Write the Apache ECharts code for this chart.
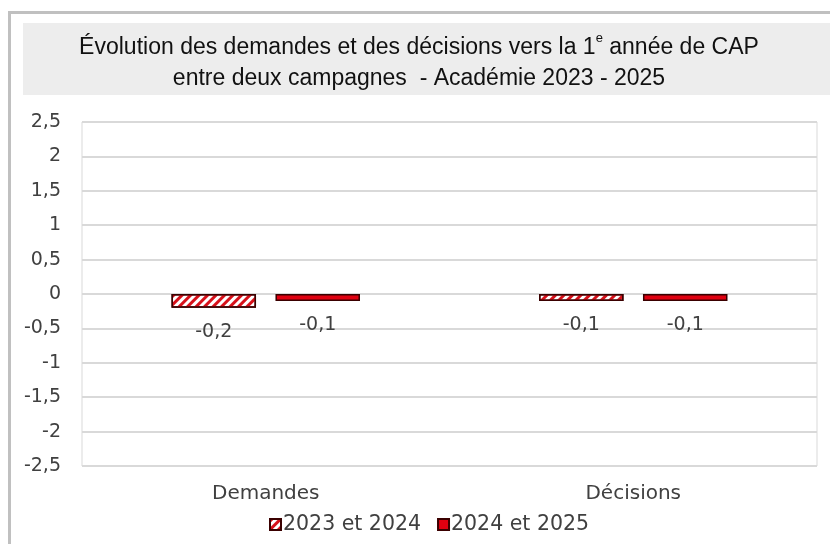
<!DOCTYPE html>
<html>
<head>
<meta charset="utf-8">
<script src="https://cdn.jsdelivr.net/npm/echarts@6/dist/echarts.min.js"></script>
<style>
  html, body { margin: 0; padding: 0; background: #fff; }
  #chart { width: 830px; height: 544px; }
</style>
</head>
<body>
<div id="chart"></div>
<script>
// données
const categories = ['Demandes', 'Décisions']
const seriesNames = ['2023 et 2024', '2024 et 2025']
const evol2324 = [-0.2, -0.1]
const evol2425 = [-0.1, -0.1]
const yTicks = { min: -2.5, max: 2.5, interval: 0.5 }

const textColor = '#404040'
const axisFont = '"DejaVu Sans", Lato, sans-serif'
const titleFont = '"Liberation Sans", Arial, sans-serif'
const fmt = v => String(v).replace('.', ',')

const chart = echarts.init(document.getElementById('chart'))

chart.setOption({
  animation: false,
  graphic: [
    // cadre extérieur
    { type: 'rect', shape: { x: 9.5, y: 12.5, width: 840, height: 560 }, style: { fill: 'none', stroke: '#c0c0c0', lineWidth: 3 }, silent: true },
    // bandeau du titre
    { type: 'rect', shape: { x: 23, y: 23, width: 807, height: 72 }, style: { fill: '#ededed' }, silent: true, z: -1 }
  ],
  title: {
    left: 414,
    top: 27,
    textAlign: 'center',
    text: '{a|Évolution des demandes et des décisions vers la 1}{s|e}{a| année de CAP}\n{a|entre deux campagnes  - Académie 2023 - 2025}',
    textStyle: {
      fontWeight: 'normal',
      rich: {
        a: { fontFamily: titleFont, fontSize: 23, fontWeight: 'normal', color: '#111', lineHeight: 31, align: 'center' },
        s: { fontFamily: titleFont, fontSize: 13, fontWeight: 'normal', color: '#111', lineHeight: 31, verticalAlign: 'top', padding: [0, 0, 10, 0] }
      }
    }
  },
  legend: {
    data: seriesNames,
    left: 264,
    top: 509,
    icon: 'rect',
    itemWidth: 11,
    itemHeight: 11,
    itemGap: 16,
    textStyle: { fontFamily: axisFont, fontSize: 20.5, color: textColor, padding: [0, 0, 0, -3] }
  },
  grid: {
    left: 82,
    right: 13,
    top: 122,
    bottom: 78,
    show: true,
    borderColor: '#d9d9d9',
    borderWidth: 1
  },
  xAxis: {
    type: 'category',
    data: categories,
    axisLine: { show: false },
    axisTick: { show: false },
    axisLabel: { fontFamily: axisFont, fontSize: 20, color: textColor, margin: 18 }
  },
  yAxis: {
    type: 'value',
    min: yTicks.min,
    max: yTicks.max,
    interval: yTicks.interval,
    axisLine: { show: false },
    axisTick: { show: false },
    splitLine: { lineStyle: { color: '#d9d9d9', width: 2 } },
    axisLabel: { fontFamily: axisFont, fontSize: 19, color: textColor, margin: 21, formatter: fmt }
  },
  series: [
    {
      name: seriesNames[0],
      type: 'bar',
      data: evol2324,
      barWidth: '23%',
      barGap: '23%',
      itemStyle: {
        color: '#ffffff',
        borderColor: '#3a0000',
        borderWidth: 1.5,
        decal: {
          symbol: 'rect',
          symbolSize: 1,
          color: '#d8101a',
          dashArrayX: [1, 0],
          dashArrayY: [3, 2.5],
          rotation: -Math.PI / 4
        }
      },
      label: {
        show: true,
        position: 'bottom',
        distance: 15,
        fontFamily: axisFont,
        fontSize: 19,
        color: textColor,
        formatter: p => fmt(p.value)
      }
    },
    {
      name: seriesNames[1],
      type: 'bar',
      data: evol2425,
      barWidth: '23%',
      itemStyle: { color: '#e00010', borderColor: '#3a0000', borderWidth: 1.5 },
      label: {
        show: true,
        position: 'bottom',
        distance: 15,
        fontFamily: axisFont,
        fontSize: 19,
        color: textColor,
        formatter: p => fmt(p.value)
      }
    }
  ]
})
</script>
</body>
</html>
